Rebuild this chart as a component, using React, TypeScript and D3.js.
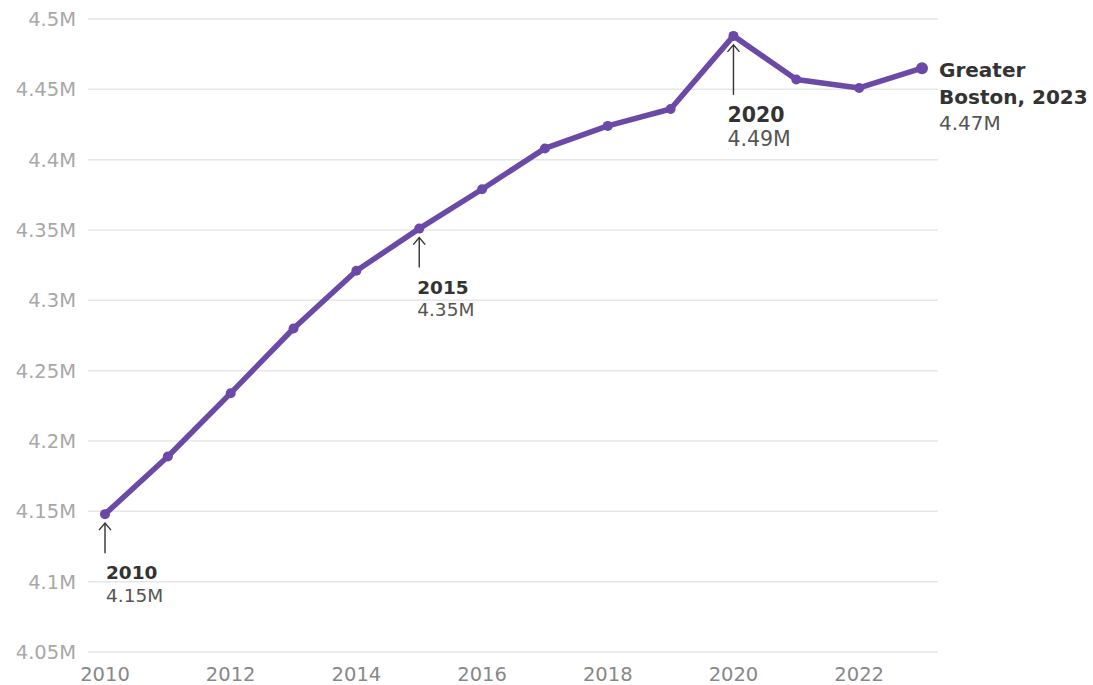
import React from "react";
import * as d3 from "d3";

const years = [2010, 2011, 2012, 2013, 2014, 2015, 2016, 2017, 2018, 2019, 2020, 2021, 2022, 2023];
const population = [4.148, 4.189, 4.234, 4.280, 4.321, 4.351, 4.379, 4.408, 4.424, 4.436, 4.488, 4.457, 4.451, 4.465];
const yTicks = [4.05, 4.1, 4.15, 4.2, 4.25, 4.3, 4.35, 4.4, 4.45, 4.5];
const xTicks = [2010, 2012, 2014, 2016, 2018, 2020, 2022];

type Ann = { year: number; title: string[]; value: string; size: number; arrowLen: number; gap: number; dx: number; side: "below" | "right" };
const annotations: Ann[] = [
  { year: 2010, title: ["2010"], value: "4.15M", size: 18.5, arrowLen: 30, gap: 26, dx: 1, side: "below" },
  { year: 2015, title: ["2015"], value: "4.35M", size: 18.5, arrowLen: 30, gap: 26, dx: -2, side: "below" },
  { year: 2020, title: ["2020"], value: "4.49M", size: 20.5, arrowLen: 50, gap: 27, dx: -6, side: "below" },
  { year: 2023, title: ["Greater", "Boston, 2023"], value: "4.47M", size: 20, arrowLen: 0, gap: 0, dx: 17, side: "right" },
];

const W = 1093, H = 685;
const FONT = "'DejaVu Sans', sans-serif";
const COLOR = "#6a4aa6";

export default function App() {
  const x = d3.scaleLinear().domain([2010, 2023]).range([105, 922]);
  const y = d3.scaleLinear().domain([4.05, 4.5]).range([652, 19]);
  const line = d3.line<number>().x((_, i) => x(years[i])).y((d) => y(d));
  const fmt = (v: number) => `${+v.toFixed(2)}M`;

  return (
    <svg width={W} height={H} style={{ position: "absolute", left: 0, top: 0, background: "#fff" }} fontFamily={FONT}>
      {yTicks.map((t) => (
        <g key={t}>
          <line x1={88} x2={938} y1={y(t)} y2={y(t)} stroke="#e6e6e6" strokeWidth={1.5} />
          <text x={76} y={y(t)} dy="0.36em" textAnchor="end" fontSize={19.5} fill="#a8a8a8">{fmt(t)}</text>
        </g>
      ))}
      {xTicks.map((t) => (
        <text key={t} x={x(t)} y={681} textAnchor="middle" fontSize={19.5} fill="#888">{t}</text>
      ))}
      <path d={line(population) || ""} fill="none" stroke={COLOR} strokeWidth={5.5} strokeLinejoin="round" strokeLinecap="round" />
      {population.map((v, i) => (
        <circle key={i} cx={x(years[i])} cy={y(v)} r={i === population.length - 1 ? 6 : 5} fill={COLOR} />
      ))}
      {annotations.map((a) => {
        const i = years.indexOf(a.year);
        const px = x(a.year), py = y(population[i]);
        if (a.side === "right") {
          const tx = px + a.dx;
          return (
            <g key={a.year}>
              {a.title.map((t, k) => (
                <text key={k} x={tx} y={py + 9 + k * 27} fontSize={a.size} fontWeight="bold" fill="#333">{t}</text>
              ))}
              <text x={tx} y={py + 9 + a.title.length * 27 - 1} fontSize={a.size} fill="#555">{a.value}</text>
            </g>
          );
        }
        const top = py + 9;
        const bottom = top + a.arrowLen;
        const tb = bottom + a.gap;
        return (
          <g key={a.year}>
            <line x1={px} x2={px} y1={bottom} y2={top} stroke="#333" strokeWidth={1.4} />
            <path d={`M${px - 6},${top + 7} L${px},${top} L${px + 6},${top + 7}`} fill="none" stroke="#333" strokeWidth={1.4} />
            <text x={px + a.dx} y={tb} fontSize={a.size} fontWeight="bold" fill="#333">{a.title[0]}</text>
            <text x={px + a.dx} y={tb + a.size + 4} fontSize={a.size} fill="#555">{a.value}</text>
          </g>
        );
      })}
    </svg>
  );
}
